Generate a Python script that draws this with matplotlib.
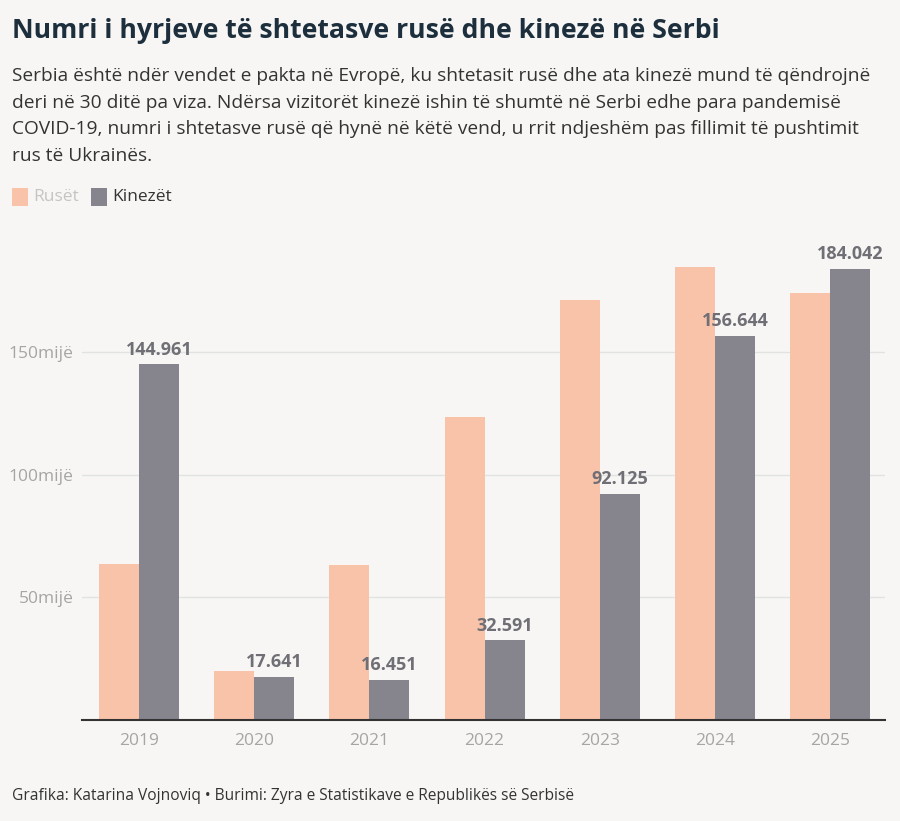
import numpy as np
import matplotlib
matplotlib.use('Agg')
import matplotlib.pyplot as plt
from matplotlib.patches import Rectangle

# data (thousands of entries)
years = ['2019', '2020', '2021', '2022', '2023', '2024', '2025']
ruset = [63.6, 20.0, 63.2, 123.5, 171.2, 184.7, 174.1]
kinezet = [144.961, 17.641, 16.451, 32.591, 92.125, 156.644, 184.042]
kinezet_labels = ['144.961', '17.641', '16.451', '32.591', '92.125', '156.644', '184.042']
yticks = [50, 100, 150]
ytick_labels = ['50mijë', '100mijë', '150mijë']

title = 'Numri i hyrjeve të shtetasve rusë dhe kinezë në Serbi'
subtitle = ('Serbia është ndër vendet e pakta në Evropë, ku shtetasit rusë dhe ata kinezë mund të qëndrojnë\n'
            'deri në 30 ditë pa viza. Ndërsa vizitorët kinezë ishin të shumtë në Serbi edhe para pandemisë\n'
            'COVID-19, numri i shtetasve rusë që hynë në këtë vend, u rrit ndjeshëm pas fillimit të pushtimit\n'
            'rus të Ukrainës.')
footer = 'Grafika: Katarina Vojnoviq • Burimi: Zyra e Statistikave e Republikës së Serbisë'

BG = '#f7f6f4'
C_RU = '#f9c3a9'
C_CN = '#86858d'
plt.rcParams['font.family'] = ['Open Sans', 'DejaVu Sans']

fig = plt.figure(figsize=(9, 8.21), dpi=100, facecolor=BG)
ax = fig.add_axes([82/900, 1-720/821, (885-82)/900, (720-240)/821])
ax.set_facecolor(BG)

x = np.arange(len(years))
w = 0.347
ax.bar(x - w/2, ruset, w, color=C_RU, zorder=2)
ax.bar(x + w/2, kinezet, w, color=C_CN, zorder=2)

for xi, v, lab in zip(x, kinezet, kinezet_labels):
    ax.annotate(lab, (xi + w/2, v), xytext=(0, 4), textcoords='offset points',
                ha='center', va='bottom', fontsize=13, fontweight='bold', color='#6f6f75')

ax.set_xlim(-0.495, 6.477)
ax.set_ylim(0, 195.7)
ax.set_yticks(yticks)
ax.set_yticklabels(ytick_labels)
ax.set_xticks(x)
ax.set_xticklabels(years)
ax.tick_params(axis='both', length=0, labelsize=12.5, labelcolor='#a5a5a5')
ax.tick_params(axis='x', pad=9)
ax.tick_params(axis='y', pad=6)
ax.grid(axis='y', color='#e2e2e2', linewidth=1, zorder=0)
for s in ['top', 'right', 'left']:
    ax.spines[s].set_visible(False)
ax.spines['bottom'].set_color('#333333')
ax.spines['bottom'].set_linewidth(1.5)

fig.text(12/900, 1-31/821, title, fontsize=19.2, fontweight='bold', color='#1d2f3d', va='center')
fig.text(12/900, 1-67/821, subtitle, fontsize=13.8, color='#333333', va='top', linespacing=1.62)

# legend
fig.patches.append(Rectangle((12/900, 1-206/821), 16/900, 18/821, transform=fig.transFigure,
                             facecolor=C_RU, edgecolor='none'))
fig.text(33/900, 1-197/821, 'Rusët', fontsize=12.5, color='#c4c4c4', va='center')
fig.patches.append(Rectangle((91/900, 1-206/821), 16/900, 18/821, transform=fig.transFigure,
                             facecolor=C_CN, edgecolor='none'))
fig.text(112/900, 1-197/821, 'Kinezët', fontsize=12.5, color='#333333', va='center')

fig.text(12/900, 1-796/821, footer, fontsize=11.2, color='#333333', va='center')

fig.savefig('out.png', dpi=100, facecolor=BG)
